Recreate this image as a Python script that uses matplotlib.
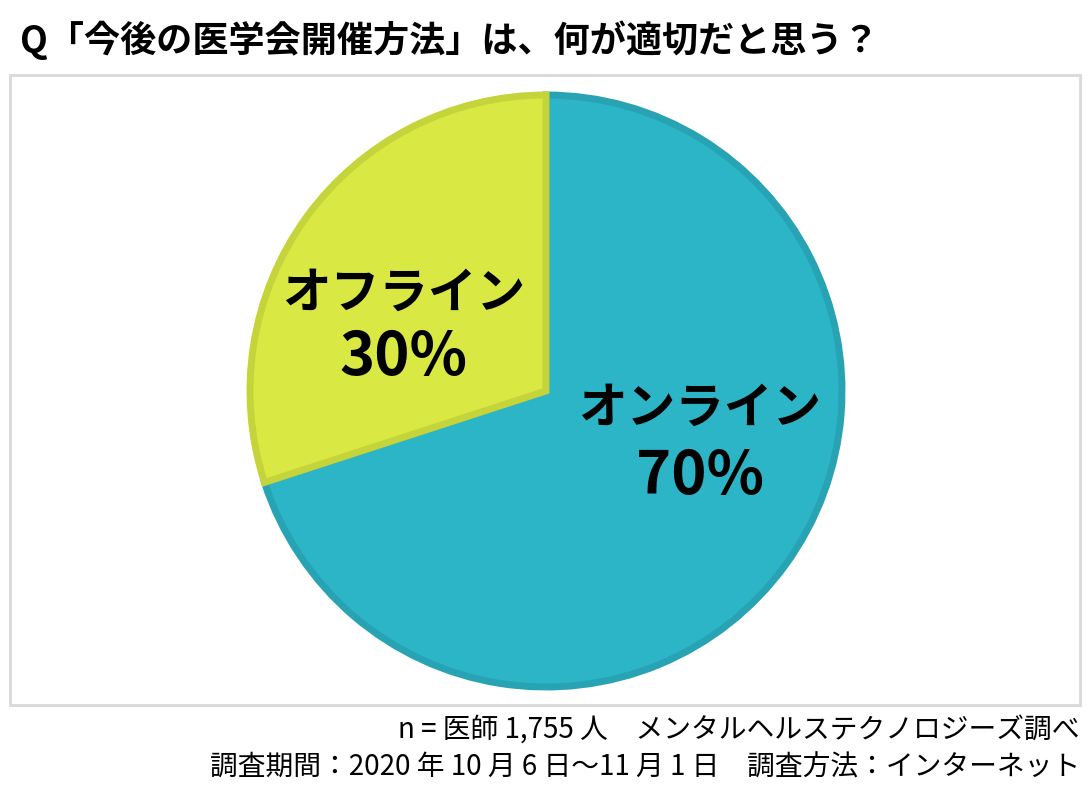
import matplotlib.pyplot as plt
from matplotlib.patches import Rectangle

plt.rcParams['font.family'] = ['Noto Sans CJK JP', 'DejaVu Sans']

# データ
categories = ["オンライン", "オフライン"]
values = [70, 30]
colors = ["#2BB5C6", "#D9E842"]
edge_colors = ["#27A3B4", "#C4D43A"]

title = "Q「今後の医学会開催方法」は、何が適切だと思う？"
note1 = "n = 医師 1,755 人　メンタルヘルステクノロジーズ調べ"
note2 = "調査期間：2020 年 10 月 6 日～11 月 1 日　調査方法：インターネット"

W, H = 1090, 791
fig = plt.figure(figsize=(W / 100, H / 100), dpi=100)
fig.patch.set_facecolor("white")

# 枠
fig.patches.append(Rectangle((10 / W, 1 - 705 / H), 1070 / W, 630 / H,
                             transform=fig.transFigure, fill=False,
                             edgecolor="#D9D9D9", linewidth=2))

# 円グラフ
cx, cy, r = 546, 391, 296
ax = fig.add_axes([(cx - r) / W, 1 - (cy + r) / H, 2 * r / W, 2 * r / H])
wedges, _ = ax.pie(values, colors=colors, startangle=90, counterclock=False,
                   radius=1, wedgeprops=dict(linewidth=5))
for w, ec in zip(wedges, edge_colors):
    w.set_edgecolor(ec)
    w.set_joinstyle("miter")
ax.set_xlim(-1, 1)
ax.set_ylim(-1, 1)
ax.set_aspect("equal")
ax.axis("off")

# ラベル（カテゴリ名と％）
label_pos = [(0.52, -0.06, -0.29), (-0.48, 0.33, 0.11)]
for cat, v, (lx, ly1, ly2) in zip(categories, values, label_pos):
    ax.text(lx, ly1, cat, ha="center", va="center",
            fontsize=35, fontweight="bold", color="black")
    ax.text(lx, ly2, f"{v}%", ha="center", va="center",
            fontsize=43, fontweight="bold", color="black")

fig.text(20 / W, 1 - 40 / H, title, ha="left", va="center",
         fontsize=26, fontweight="bold", color="black")
fig.text(1080 / W, 1 - 730 / H, note1, ha="right", va="center",
         fontsize=20, color="black")
fig.text(1080 / W, 1 - 767 / H, note2, ha="right", va="center",
         fontsize=20, color="black")

fig.savefig("out.png", dpi=100)
